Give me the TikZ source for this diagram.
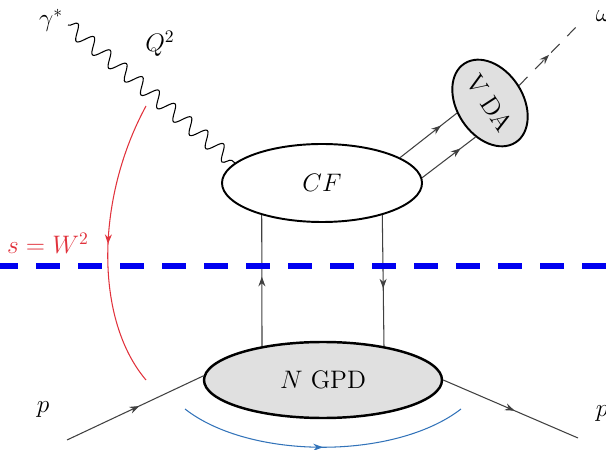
\documentclass[tikz,border=0pt]{standalone}
\usetikzlibrary{shapes.geometric, arrows.meta, decorations.pathmorphing, decorations.markings}
\definecolor{cutblue}{RGB}{0,0,240}
\definecolor{sred}{RGB}{225,50,60}
\definecolor{ublue}{RGB}{50,115,185}
\definecolor{blobgray}{RGB}{224,224,224}

\begin{document}
\begin{tikzpicture}[x=0.2mm, y=-0.2mm,
  blob/.style={ellipse, draw=black, line width=1.1pt, inner sep=0pt, font=\Large},
  line/.style={draw=black!75, line width=0.6pt},
  midarr/.style={postaction={decorate}, decoration={markings,
      mark=at position #1 with {\arrow{Stealth[length=5.5pt,width=4pt]}}}},
  midarr/.default=0.5,
  photon/.style={decorate, decoration={snake, segment length=4.2mm, amplitude=1.5mm},
      line width=0.6pt},
  cut/.style={cutblue, line width=3.4pt, dash pattern=on 4.8mm off 3.6mm, dash phase=1.2mm},
  lbl/.style={font=\Large},
]
  \useasboundingbox (0,0) rectangle (606,450);

  % blobs
  \node[blob, fill=white, minimum width=40mm, minimum height=15.6mm] (cf) at (322,183) {$CF$};
  \node[blob, fill=blobgray, line width=1.4pt, minimum width=47.6mm, minimum height=15.2mm]
    (gpd) at (323,380) {$N$ GPD};
  \node[blob, fill=blobgray, rotate=-57, minimum width=18.8mm, minimum height=13.2mm]
    (vda) at (490,103) {V DA};

  % external legs
  \coordinate (gam) at (68,25);
  \coordinate (om) at (579,24);
  \coordinate (pin) at (67,440);
  \coordinate (pout) at (578,438);
  \draw[photon] (gam) -- (cf.167);
  \draw[line, midarr=0.72] (cf.18) -- (vda.254);
  \draw[line, midarr=0.72] (cf.3) -- (vda.304);
  \draw[line, dash pattern=on 2.4mm off 2.2mm, midarr=0.5] (vda.88) -- (om);
  \draw[line, midarr=0.53] (pin) -- (gpd.178);
  \draw[line, midarr=0.53] (gpd.0) -- (pout);

  % exchanged pair
  \draw[line, midarr=0.53] (gpd.151) -- (cf.208);
  \draw[line, midarr=0.56] (cf.332.5) -- (gpd.29);

  % cut and energy arcs
  \draw[cut] (0,266) -- (606,266);
  \draw[sred, line width=0.6pt, midarr=0.5] (146,106) .. controls (95,200) and (95,320) .. (146,380);
  \draw[ublue, line width=0.6pt, midarr=0.5] (185,409) .. controls (250,460) and (395,460) .. (461,409);

  % labels
  \node[lbl] (gstar) at (51,20) {$\gamma^*$};
  \node[lbl] (q2) at (160,44) {$Q^2$};
  \node[lbl, text=sred] (s) at (48,243) {$s=W^2$};
  \node[lbl] (omega) at (604,16) {$\omega$};
  \node[lbl] (p) at (43,410) {$p$};
  \node[lbl] (pp) at (605,409) {$p'$};
\end{tikzpicture}
\end{document}
